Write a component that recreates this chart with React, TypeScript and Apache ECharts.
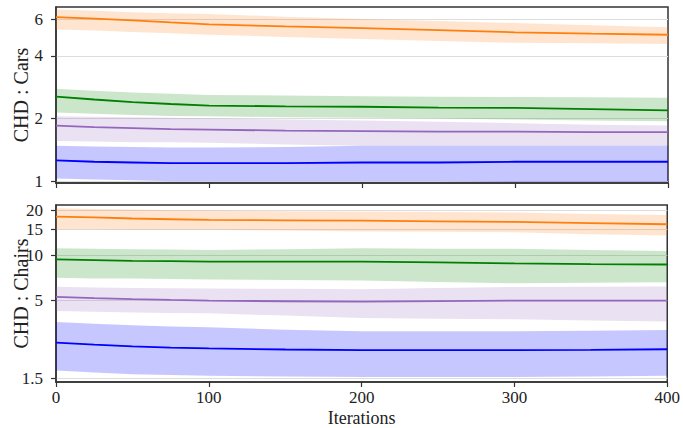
import React, { useEffect, useRef } from "react";
import * as echarts from "echarts";

const ITER = [0, 25, 50, 75, 100, 150, 200, 250, 300, 350, 400];

// ---- Top panel: CHD : Cars ----
const carsOrangeMean = [6.15, 6.05, 5.93, 5.8, 5.68, 5.55, 5.44, 5.32, 5.2, 5.12, 5.06];
const carsOrangeHi = [6.7, 6.6, 6.5, 6.42, 6.36, 6.18, 6.02, 5.9, 5.76, 5.62, 5.5];
const carsOrangeLo = [5.37, 5.3, 5.22, 5.14, 5.06, 4.94, 4.83, 4.72, 4.63, 4.6, 4.57];

const carsGreenMean = [2.55, 2.47, 2.4, 2.35, 2.31, 2.29, 2.28, 2.26, 2.25, 2.22, 2.19];
const carsGreenHi = [2.78, 2.72, 2.67, 2.63, 2.6, 2.58, 2.56, 2.55, 2.54, 2.53, 2.52];
const carsGreenLo = [2.14, 2.11, 2.08, 2.06, 2.05, 2.03, 2.02, 2.0, 1.98, 1.96, 1.94];

const carsPurpleMean = [1.85, 1.82, 1.8, 1.78, 1.77, 1.75, 1.74, 1.73, 1.73, 1.72, 1.72];
const carsPurpleHi = [2.05, 2.04, 2.03, 2.02, 2.01, 1.98, 1.96, 1.93, 1.9, 1.87, 1.85];
const carsPurpleLo = [1.56, 1.55, 1.54, 1.54, 1.53, 1.5, 1.48, 1.48, 1.48, 1.48, 1.48];

const carsBlueMean = [1.26, 1.24, 1.23, 1.22, 1.22, 1.22, 1.23, 1.23, 1.24, 1.24, 1.24];
const carsBlueHi = [1.48, 1.47, 1.46, 1.45, 1.45, 1.46, 1.48, 1.48, 1.48, 1.48, 1.48];
const carsBlueLo = [1.03, 1.02, 1.01, 1.0, 1.0, 1.0, 1.0, 1.0, 0.99, 0.99, 0.99];

// ---- Bottom panel: CHD : Chairs ----
const chairsOrangeMean = [18.2, 18.0, 17.7, 17.5, 17.3, 17.2, 17.1, 16.95, 16.8, 16.5, 16.2];
const chairsOrangeHi = [20.7, 20.5, 20.3, 20.1, 20.0, 19.8, 19.7, 19.55, 19.4, 19.0, 18.7];
const chairsOrangeLo = [15.0, 15.0, 14.9, 14.9, 14.9, 14.7, 14.5, 14.4, 14.3, 13.9, 13.6];

const chairsGreenMean = [9.4, 9.3, 9.2, 9.15, 9.1, 9.1, 9.1, 9.0, 8.85, 8.75, 8.7];
const chairsGreenHi = [11.2, 11.1, 11.0, 10.95, 10.9, 11.0, 11.2, 11.1, 11.1, 10.9, 10.7];
const chairsGreenLo = [7.1, 7.0, 7.0, 6.95, 6.9, 6.85, 6.8, 6.65, 6.5, 6.55, 6.6];

const chairsPurpleMean = [5.28, 5.18, 5.1, 5.03, 4.98, 4.93, 4.9, 4.94, 4.98, 4.98, 4.98];
const chairsPurpleHi = [6.16, 6.1, 6.05, 6.02, 6.0, 5.97, 5.94, 6.05, 6.15, 6.18, 6.2];
const chairsPurpleLo = [4.24, 4.2, 4.15, 4.12, 4.1, 3.95, 3.8, 3.76, 3.73, 3.66, 3.6];

const chairsBlueMean = [2.6, 2.52, 2.46, 2.41, 2.38, 2.34, 2.32, 2.32, 2.32, 2.33, 2.35];
const chairsBlueHi = [3.58, 3.48, 3.4, 3.34, 3.3, 3.18, 3.1, 3.1, 3.1, 3.13, 3.16];
const chairsBlueLo = [1.69, 1.64, 1.6, 1.58, 1.56, 1.54, 1.53, 1.53, 1.53, 1.54, 1.56];

// Tick labels
const CARS_TICKS = [1, 2, 4, 6];
const CHAIRS_TICKS = [1.5, 5, 10, 15, 20];
const CARS_RANGE = [0.98, 6.88];
const CHAIRS_RANGE = [1.417, 21.8];

const COLORS = {
  orange: "#ff7f0e",
  green: "#008000",
  purple: "#9467bd",
  blue: "#0000ff",
};
const BAND = {
  orange: "rgba(255,127,14,0.2)",
  green: "rgba(0,128,0,0.2)",
  purple: "rgba(148,103,189,0.2)",
  blue: "rgba(0,0,255,0.22)",
};

const FONT = "'Liberation Serif', 'DejaVu Serif', serif";
const L = Math.log10;

type Trio = { key: keyof typeof COLORS; mean: number[]; hi: number[]; lo: number[] };

const carsSets: Trio[] = [
  { key: "orange", mean: carsOrangeMean, hi: carsOrangeHi, lo: carsOrangeLo },
  { key: "green", mean: carsGreenMean, hi: carsGreenHi, lo: carsGreenLo },
  { key: "purple", mean: carsPurpleMean, hi: carsPurpleHi, lo: carsPurpleLo },
  { key: "blue", mean: carsBlueMean, hi: carsBlueHi, lo: carsBlueLo },
];
const chairsSets: Trio[] = [
  { key: "orange", mean: chairsOrangeMean, hi: chairsOrangeHi, lo: chairsOrangeLo },
  { key: "green", mean: chairsGreenMean, hi: chairsGreenHi, lo: chairsGreenLo },
  { key: "purple", mean: chairsPurpleMean, hi: chairsPurpleHi, lo: chairsPurpleLo },
  { key: "blue", mean: chairsBlueMean, hi: chairsBlueHi, lo: chairsBlueLo },
];

function buildSeries(sets: Trio[], p: number) {
  const out: any[] = [];
  sets.forEach((s) => {
    // band between lo and hi, drawn as a polygon through the axis scales
    const rows = ITER.map((x, i) => [x, L(s.lo[i]), L(s.hi[i])]);
    out.push({
      type: "custom",
      xAxisIndex: p,
      yAxisIndex: p,
      silent: true,
      z: 1,
      clip: true,
      encode: { x: 0, y: [1, 2] },
      data: rows,
      renderItem: (params: any, api: any) => {
        if (params.dataIndex !== 0) return null;
        const upper = rows.map((r) => api.coord([r[0], r[2]]));
        const lower = rows.map((r) => api.coord([r[0], r[1]])).reverse();
        return {
          type: "polygon",
          shape: { points: upper.concat(lower) },
          style: { fill: BAND[s.key], stroke: "none" },
        };
      },
    });
  });
  sets.forEach((s) => {
    out.push({
      type: "line",
      xAxisIndex: p,
      yAxisIndex: p,
      symbol: "none",
      silent: true,
      lineStyle: { color: COLORS[s.key], width: 1.8 },
      data: ITER.map((x, i) => [x, L(s.mean[i])]),
      z: 3,
    });
  });
  return out;
}

const fmt = (v: number) => String(Math.round(Math.pow(10, v) * 10) / 10);

function yAxis(p: number, name: string, range: number[], ticks: number[]) {
  const cv = ticks.map((t) => L(t));
  return {
    type: "value",
    gridIndex: p,
    min: L(range[0]),
    max: L(range[1]),
    name,
    nameLocation: "middle",
    nameGap: 25,
    nameMoveOverlap: false,
    nameTextStyle: { fontFamily: FONT, fontSize: 20, color: "#222" },
    axisLine: { show: true, lineStyle: { color: "#333", width: 1.5 } },
    axisTick: { show: true, customValues: cv, length: 5, lineStyle: { color: "#333", width: 1.2 } },
    axisLabel: {
      show: true,
      customValues: cv,
      formatter: fmt,
      margin: 13,
      hideOverlap: false,
      showMinLabel: true,
      showMaxLabel: true,
      fontFamily: FONT,
      fontSize: 17,
      color: "#222",
    },
    splitLine: { show: true, lineStyle: { color: "#dddddd", width: 1 } },
  };
}

function xAxis(p: number, labels: boolean) {
  return {
    type: "value",
    gridIndex: p,
    min: 0,
    max: 400,
    interval: 100,
    name: labels ? "Iterations" : "",
    nameLocation: "middle",
    nameGap: 27,
    nameMoveOverlap: false,
    nameTextStyle: { fontFamily: FONT, fontSize: 18, color: "#222" },
    axisLine: { show: true, onZero: false, lineStyle: { color: "#333", width: 1.5 } },
    axisTick: { show: true, length: 5, lineStyle: { color: "#333", width: 1.2 } },
    axisLabel: {
      show: labels,
      margin: 7,
      hideOverlap: false,
      showMinLabel: true,
      showMaxLabel: true,
      fontFamily: FONT,
      fontSize: 17,
      color: "#222",
    },
    splitLine: { show: false },
  };
}

export default function App() {
  const ref = useRef<HTMLDivElement>(null);
  useEffect(() => {
    if (!ref.current) return;
    const chart = echarts.init(ref.current, undefined, { renderer: "svg" });
    chart.setOption({
      animation: false,
      backgroundColor: "#ffffff",
      grid: [
        { left: 56, right: 15, top: 7, height: 176, show: true, borderColor: "#333", borderWidth: 1.5, backgroundColor: "transparent" },
        { left: 56, right: 15, top: 205, height: 178, show: true, borderColor: "#333", borderWidth: 1.5, backgroundColor: "transparent" },
      ],
      xAxis: [xAxis(0, false), xAxis(1, true)],
      yAxis: [
        yAxis(0, "CHD : Cars", CARS_RANGE, CARS_TICKS),
        yAxis(1, "CHD : Chairs", CHAIRS_RANGE, CHAIRS_TICKS),
      ],
      series: [...buildSeries(carsSets, 0), ...buildSeries(chairsSets, 1)],
    });
    return () => chart.dispose();
  }, []);
  return (
    <div
      ref={ref}
      style={{ position: "fixed", left: 0, top: 0, width: 683, height: 428, background: "#fff" }}
    />
  );
}
